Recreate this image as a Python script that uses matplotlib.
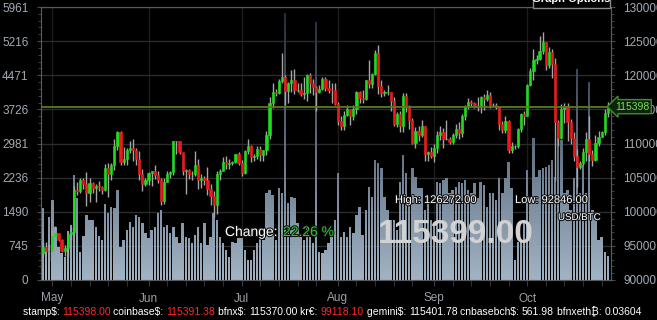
import numpy as np
import pandas as pd
import matplotlib
matplotlib.use('Agg')
import matplotlib.pyplot as plt
import matplotlib.patheffects as pe
from matplotlib.colors import LinearSegmentedColormap
from matplotlib.path import Path
from matplotlib.patches import Rectangle
from matplotlib.ticker import MultipleLocator, FixedLocator

plt.rcParams['font.family'] = ['Liberation Sans', 'DejaVu Sans', 'Noto Sans']

# daily candles, thousand USD, 28 Apr .. 27 Oct
first_open = 94.0
close = [94.8, 94.3, 94.2,
         96.5, 96.9, 95.9, 94.3, 94.7, 96.8, 97.0, 103.2, 103.0, 104.7, 104.1, 102.8, 104.2, 103.5, 103.7,
         103.6, 103.2, 106.4, 105.6, 106.8, 109.7, 111.7, 107.3, 107.8, 109.0, 109.4, 109.0, 107.8, 105.6, 104.0, 104.6,
         105.7, 105.9, 105.4, 104.7, 101.6, 104.4, 105.6, 105.8, 110.3, 110.3, 108.7, 105.9, 106.1, 105.5, 105.6,
         106.8, 104.6, 104.9, 104.6, 103.3, 102.3, 101.0, 105.5, 106.0, 107.3, 107.0, 107.1, 107.3, 108.4, 107.2,
         105.7, 108.9, 109.6, 108.0, 108.2, 109.2, 108.3, 109.0, 111.3, 116.0, 117.5, 117.4, 119.1, 119.8, 117.7,
         118.8, 119.3, 117.9, 117.9, 117.3, 117.4, 120.0, 118.8, 118.3, 117.6, 118.0, 119.5, 118.1, 117.9, 117.8, 115.8,
         113.3, 112.6, 114.2, 115.1, 114.1, 115.0, 117.5, 116.7, 116.5, 119.3, 118.7, 120.2, 123.3, 118.4, 117.4,
         117.5, 117.5, 116.3, 112.9, 114.3, 112.5, 116.9, 115.4, 113.5, 110.1, 111.8, 111.3, 112.6, 108.4, 108.8, 108.2,
         109.3, 111.2, 111.7, 110.7, 110.7, 110.2, 111.2, 112.1, 111.6, 114.0, 115.5, 116.1, 116.0, 115.4, 115.4,
         116.8, 116.5, 117.1, 115.7, 115.7, 115.3, 112.8, 112.0, 113.3, 109.1, 109.7, 109.7, 112.1, 114.3, 114.1,
         118.6, 120.6, 122.3, 122.4, 123.5, 124.8, 121.5, 123.4, 121.7, 113.2, 110.8, 115.0, 115.3, 113.1, 110.8,
         108.2, 106.5, 107.2, 108.7, 110.6, 108.5, 107.6, 110.1, 111.0, 111.7, 114.5, 115.4]
high = [95.5, 95.5, 95.3,
        97.4, 97.9, 96.9, 96.0, 95.2, 97.0, 97.7, 103.8, 104.3, 104.9, 105.0, 105.8, 104.9, 104.4, 104.0,
        104.5, 103.7, 107.0, 107.1, 107.1, 110.7, 111.9, 111.9, 109.5, 109.3, 110.4, 110.7, 109.3, 108.9, 106.3, 104.9,
        105.8, 105.9, 106.8, 105.9, 105.0, 105.0, 105.9, 106.0, 110.4, 110.4, 110.4, 108.5, 106.2, 106.2, 106.0,
        108.9, 107.7, 105.6, 105.2, 106.5, 104.0, 103.0, 106.0, 106.2, 108.0, 108.2, 107.8, 107.5, 108.5, 108.7,
        107.6, 109.0, 110.6, 109.8, 108.4, 109.7, 109.7, 109.0, 111.9, 116.8, 118.9, 118.0, 119.5, 123.2, 120.0,
        119.0, 120.8, 120.9, 118.9, 118.9, 119.7, 120.2, 120.3, 119.5, 118.4, 118.5, 119.8, 119.8, 119.3, 118.8, 118.9,
        116.1, 114.0, 114.8, 115.7, 115.1, 115.6, 117.7, 117.7, 117.9, 119.3, 122.3, 120.3, 123.7, 124.4, 119.3,
        117.9, 118.6, 117.6, 116.8, 114.6, 114.8, 117.4, 117.4, 115.7, 113.7, 112.4, 112.6, 113.5, 112.6, 108.9, 109.5,
        109.9, 111.8, 112.6, 112.2, 113.4, 110.9, 111.6, 112.8, 113.2, 114.3, 115.6, 116.7, 116.4, 116.1, 116.8,
        116.9, 117.3, 117.9, 117.5, 116.0, 116.0, 115.4, 113.3, 114.0, 113.4, 110.2, 109.8, 112.3, 114.5, 114.8,
        118.7, 121.0, 123.9, 122.9, 125.7, 126.27, 124.9, 124.2, 123.8, 122.6, 113.5, 115.8, 116.0, 115.9, 113.6,
        111.7, 109.2, 107.5, 109.4, 111.7, 114.0, 109.1, 111.3, 111.8, 111.9, 115.0, 116.1]
low = [93.5, 93.9, 92.85,
       94.1, 96.3, 95.7, 94.1, 93.5, 93.4, 95.8, 96.9, 102.4, 102.8, 103.4, 100.8, 101.4, 102.7, 101.4,
       103.1, 102.6, 103.0, 102.1, 104.6, 106.1, 109.0, 106.8, 106.8, 106.8, 108.6, 107.5, 106.8, 104.6, 103.1, 103.7,
       103.9, 103.8, 104.8, 104.2, 101.0, 101.1, 104.4, 104.9, 105.4, 108.4, 108.4, 105.4, 102.6, 104.8, 104.6,
       105.3, 103.4, 103.5, 103.9, 102.4, 101.0, 99.3, 99.6, 104.7, 105.9, 106.3, 106.2, 106.9, 107.2, 106.8,
       105.3, 105.6, 108.5, 107.3, 107.5, 107.8, 107.5, 107.5, 108.3, 110.6, 115.2, 116.9, 117.2, 118.9, 115.7,
       115.9, 117.6, 117.2, 117.5, 116.9, 116.5, 116.2, 117.4, 117.1, 114.7, 117.4, 117.8, 117.7, 117.4, 115.9, 115.6,
       112.7, 112.0, 112.0, 114.0, 112.7, 113.4, 114.3, 115.9, 115.9, 116.4, 118.2, 118.2, 120.1, 117.2, 116.8,
       116.9, 117.1, 114.7, 112.6, 112.4, 111.7, 111.7, 114.6, 112.1, 109.9, 109.3, 110.3, 110.9, 107.4, 107.5, 107.9,
       107.3, 108.6, 110.5, 109.3, 110.5, 110.0, 110.0, 110.8, 110.7, 110.9, 113.4, 115.0, 115.3, 115.2, 114.8,
       114.5, 114.9, 116.3, 115.2, 115.5, 115.1, 112.0, 111.6, 111.6, 108.6, 108.6, 109.2, 109.3, 111.7, 112.7,
       114.0, 118.4, 119.3, 121.6, 122.3, 123.1, 120.7, 121.1, 119.6, 104.5, 109.7, 110.6, 113.0, 110.3, 110.0,
       107.5, 103.6, 106.2, 106.9, 107.5, 107.5, 106.7, 107.5, 109.7, 110.9, 111.3, 113.9]
volume = [1565, 700, 1380,
          1750, 1160, 730, 580, 510, 1060, 1200, 2290, 1780, 620, 950, 1420, 1310, 1310, 1165, 950,
          875, 1670, 1455, 1600, 1565, 1965, 730, 875, 1090, 1275, 1165, 1420, 1385, 1240, 1020,
          910, 1090, 1165, 1455, 1530, 1165, 1200, 1020, 1165, 945, 800, 1240, 945, 910, 800,
          985, 1165, 800, 1240, 765, 945, 1455, 1310, 945, 800, 655, 510, 835, 800, 910,
          910, 655, 440, 440, 655, 800, 945, 875, 1890, 1965, 1855, 875, 2000, 1890, 5830,
          1675, 1820, 1785, 1240, 945, 875, 1165, 945, 800, 5633, 620, 580, 655, 800, 945, 1310,
          2330, 945, 1055, 945, 1165, 1020, 1420, 1600, 985, 1530, 2040, 1820, 2620, 2550, 2440,
          1820, 1530, 1310, 1310, 1090, 2150, 2730, 2330, 1745, 2440, 2255, 2000, 2000, 1530, 1820, 1310,
          1200, 2150, 2110, 2185, 2220, 1895, 1965, 2040, 2150, 2110, 2185, 1965, 1895, 2110, 1785,
          2150, 2075, 1600, 1895, 1895, 1745, 2220, 1895, 2220, 2585, 2000, 440, 835, 875, 1310,
          2400, 1820, 3095, 2255, 2400, 2440, 2475, 2510, 2620, 2255, 3420, 3060, 1895, 1965, 1530,
          2220, 4607, 1895, 2510, 1895, 4323, 1530, 1310, 875, 945, 620, 520]

months = ['May', 'Jun', 'Jul', 'Aug', 'Sep', 'Oct']
vol_labels = ['0', '745', '1490', '2236', '2981', '3726', '4471', '5216', '5961']
vol_max = 5961
last_price = 115398
ticker = [('stamp$: ', '115398.00', '#ff2a2a'), ('coinbase$: ', '115391.38', '#ff2a2a'),
          ('bfnx$: ', '115370.00', 'white'), ('kr€: ', '99118.10', '#ff2a2a'),
          ('gemini$: ', '115401.78', 'white'), ('cnbasebch$: ', '561.98', 'white'),
          ('bfnxeth₿: ', '0.03604', 'white')]
ticker_x = [23, 113, 218, 300, 367, 460, 557]

dates = pd.date_range('2025-04-28', periods=len(close))
day = np.asarray((dates - pd.Timestamp('2025-05-01')).days, dtype=float)
c = np.array(close) * 1000
o = np.array([first_open] + close[:-1]) * 1000
h = np.array(high) * 1000
l = np.array(low) * 1000
vol = np.array(volume, dtype=float)

W, H = 657, 320
fig = plt.figure(figsize=(W / 100, H / 100), dpi=100, facecolor='black')
ax = fig.add_axes([41 / W, 40 / H, 570 / W, 273 / H])
ax.set_facecolor('black')
xl = (-3.64, 180.0)

# volume bars with a vertical gradient
bars = ax.bar(day, vol, width=0.78, color='none', linewidth=0)
paths = [b.get_path().transformed(b.get_patch_transform()) for b in bars]
clip = Path.make_compound_path(*paths)
cmap = LinearSegmentedColormap.from_list('vol', ['#a2b3c3', '#76879a', '#485666', '#222b35'])
grad = np.linspace(0, 1, 256).reshape(-1, 1)
im = ax.imshow(grad, cmap=cmap, extent=(xl[0], xl[1], 0, vol_max), origin='lower',
               aspect='auto', zorder=1)
im.set_clip_path(clip, transform=ax.transData)
ax.set_xlim(xl)
ax.set_ylim(0, vol_max)

ax.set_yticks([i * vol_max / 8 for i in range(9)])
ax.set_yticklabels(vol_labels)
ax.yaxis.set_minor_locator(MultipleLocator(vol_max / 40))
month_start = [d for d, t in zip(day, dates) if t.day == 1]
ax.set_xticks(month_start)
ax.set_xticklabels(months)
ax.xaxis.set_minor_locator(FixedLocator([d for d, t in zip(day, dates) if t.day in (7, 13, 19, 25)]))
ax.set_axisbelow(True)
ax.yaxis.grid(True, color='#2c2c2c', lw=1)
ax.xaxis.grid(True, color='#1c1c1c', lw=1)
ax.tick_params(axis='y', which='both', colors='#4a4a4a', labelcolor='#a3abb3', labelsize=8.5,
               length=3, pad=6)
ax.tick_params(axis='y', which='minor', length=2)
ax.tick_params(axis='x', which='both', colors='#3a3a3a', labelcolor='#9aa2aa', labelsize=8.5,
               length=4, pad=5)
for s in ax.spines.values():
    s.set_color('#5a5a5a')

# price candles
ax2 = ax.twinx()
ax2.set_ylim(90000, 130000)
ax2.set_yticks(range(90000, 130001, 5000))
ax2.yaxis.set_minor_locator(MultipleLocator(1000))
ax2.tick_params(axis='y', which='both', colors='#4a4a4a', labelcolor='#a3abb3', labelsize=8.5,
                length=3, pad=6)
ax2.tick_params(axis='y', which='minor', length=2)
for s in ax2.spines.values():
    s.set_color('#5a5a5a')
up = c >= o
cols = np.where(up, '#1fdc1f', '#f01818')
ax2.vlines(day, l, h, color='#a5a5a5', lw=1, zorder=2)
ax2.bar(day, c - o, bottom=o, width=0.72, color=cols, edgecolor=cols, lw=0.4, zorder=3)
ax2.axhline(last_price, color='#5a7a1e', lw=1.3, zorder=4)
ax2.set_xlim(xl)

ax2.text(1.007, last_price, str(last_price), transform=ax2.get_yaxis_transform(), ha='left',
         va='center', fontsize=7.5, color='#7fe05a', clip_on=False, zorder=10,
         bbox=dict(boxstyle='larrow,pad=0.2', fc='#0c240c', ec='#3f8f2a', lw=1))

# overlay info
st = [pe.withStroke(linewidth=1.5, foreground='#111111')]
fig.text(395 / W, 1 - 203 / H, 'High: 126272.00', fontsize=8, color='white', path_effects=st)
fig.text(515 / W, 1 - 203 / H, 'Low: 92846.00', fontsize=8, color='white', path_effects=st)
fig.text(558 / W, 1 - 220 / H, 'USD/BTC', fontsize=7, color='white', path_effects=st)
fig.text(378 / W, 1 - 243 / H, '115399.00', fontsize=24, weight='bold', color='#d2d2d2')
fig.text(225 / W, 1 - 236 / H, 'Change:', fontsize=10, color='white', path_effects=st)
fig.text(283 / W, 1 - 236 / H, '22.26 %', fontsize=10, color='#2ec62e', path_effects=st)

# ticker line
for (lab, val, col), x in zip(ticker, ticker_x):
    t = fig.text(x / W, 1 - 315 / H, lab, fontsize=7.5, color='white')
    ax.annotate(val, xy=(1, 0), xycoords=t, va='bottom', ha='left', fontsize=7.5, color=col,
                annotation_clip=False)

# cut-off button at the top
fig.add_artist(Rectangle((533 / W, 1 - 8 / H), 77 / W, 20 / H, transform=fig.transFigure,
                         fc='black', ec='#8a8a8a', lw=1, zorder=10))
fig.text(571 / W, 1 - 2.5 / H, 'Graph Options', ha='center', fontsize=8, weight='bold',
         color='white', zorder=11)

fig.savefig('out.png', dpi=100, facecolor='black')
